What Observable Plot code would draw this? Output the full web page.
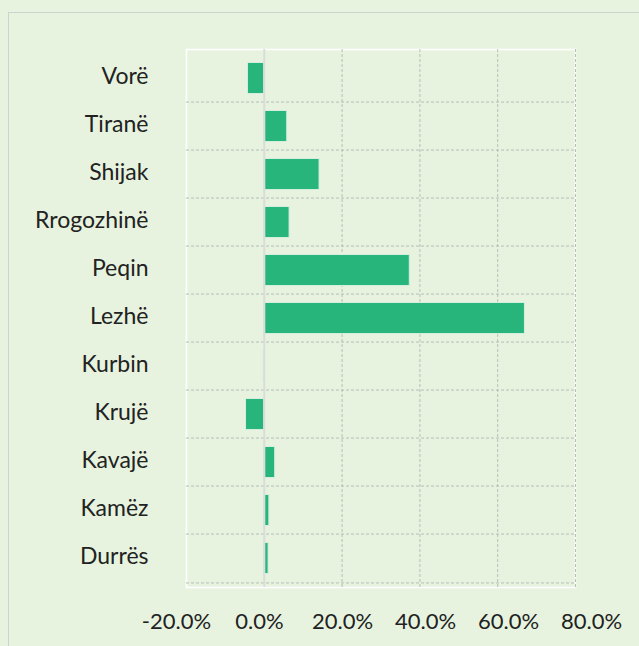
<!DOCTYPE html>
<html>
<head>
<meta charset="utf-8">
<script src="https://cdn.jsdelivr.net/npm/d3@7"></script>
<script src="https://cdn.jsdelivr.net/npm/@observablehq/plot@0.6"></script>
<style>
  html, body { margin: 0; padding: 0; background: #e7f3df; overflow: hidden; }
  #wrap { position: relative; width: 639px; height: 646px; }
  #frame { position: absolute; left: 8px; top: 12px; width: 700px; height: 700px; border: 1px solid #cfd3cf; box-sizing: border-box; }
  #chart { position: absolute; left: 0; top: 0; }
</style>
</head>
<body>
<div id="wrap"><div id="frame"></div><div id="chart"></div></div>
<script>
const categories = ["Vorë", "Tiranë", "Shijak", "Rrogozhinë", "Peqin", "Lezhë", "Kurbin", "Krujë", "Kavajë", "Kamëz", "Durrës"];
const values = [-4.2, 5.9, 14.2, 6.5, 37.4, 67.0, -0.2, -4.7, 2.8, 1.3, 1.1];
const xTicks = [-20, 0, 20, 40, 60, 80];

const data = categories.map((c, i) => ({category: c, value: values[i]}));
const fmt = d => d.toFixed(1) + "%";

// tick labels in the reference are spread slightly wider than the gridlines
const xAxes = xTicks.map((t, i) => Plot.axisX({
  ticks: [t], tickFormat: fmt, tickSize: 0, tickPadding: 26, fontSize: 22, label: null,
  dx: 5.2 * i - 10
}));

const chart = Plot.plot({
  width: 639,
  height: 646,
  marginLeft: 186,
  marginRight: 64,
  marginTop: 49,
  marginBottom: 59,
  style: {background: "transparent", fontFamily: "Lato, 'Noto Sans', sans-serif", fontSize: "22px", color: "#222"},
  x: {domain: [-20, 80], ticks: xTicks, tickFormat: fmt, label: null},
  y: {domain: categories, padding: 0, label: null},
  marks: [
    Plot.frame({stroke: "#ffffff", strokeWidth: 1.5}),
    Plot.ruleX(xTicks.filter(d => d !== 0 && d !== -20), {stroke: "#b9bdb8", strokeDasharray: "3,2", strokeWidth: 1}),
    Plot.gridY({stroke: "#b9bdb8", strokeOpacity: 1, strokeDasharray: "3,2", strokeWidth: 1, y: categories.slice(1), dy: -24.45}),
    Plot.ruleY([categories[categories.length - 1]], {dy: 24.45, stroke: "#b9bdb8", strokeDasharray: "3,2"}),
    Plot.barX(data, {x: "value", y: "category", fill: "#27b57c", stroke: "#d4efdf", strokeWidth: 1, insetTop: 8.5, insetBottom: 8.5}),
    Plot.ruleX([0], {stroke: "#dcdcdc", strokeWidth: 2}),
    Plot.axisY({tickSize: 0, tickPadding: 38, fontSize: 23, dy: -2}),
    ...xAxes
  ]
});
document.getElementById("chart").appendChild(chart);
</script>
</body>
</html>
